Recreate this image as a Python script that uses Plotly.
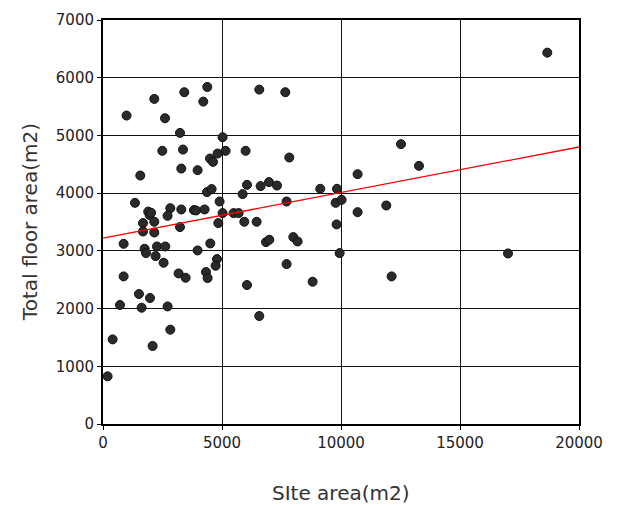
import plotly.graph_objects as go

site_area = [990, 2155, 3416, 4382, 4214, 2605, 3235, 5025, 2492, 3361, 5151, 4815, 5992, 4496, 4622,
             7828, 6567, 7660, 1567, 3290, 3975, 4370, 4563, 6050, 6622, 6975, 7311, 5866, 9130, 9832,
             1343, 1900, 1960, 2020, 2828, 3290, 3820, 3910, 4269, 4899, 7714, 9773, 10025, 2714, 5025,
             5489, 5698, 1681, 2155, 1681, 2155, 3235, 4845, 5937, 6454, 867, 1748, 1807, 2269, 2618,
             2211, 2546, 3975, 4508, 4790, 4731, 3176, 3471, 4328, 4395, 867, 6849, 6987, 7996, 8176,
             9815, 9943, 7714, 8807, 6050, 6567, 1511, 1975, 714, 1623, 2714, 2828, 404, 2084, 193,
             18668, 12521, 13277, 10697, 11903, 10697, 17017, 12126]
floor_area = [5344, 5633, 5749, 5840, 5586, 5298, 5044, 4969, 4733, 4755, 4733, 4686, 4733, 4599, 4542,
              4617, 5794, 5749, 4305, 4426, 4398, 4018, 4070, 4144, 4122, 4191, 4132, 3983, 4075, 4075,
              3832, 3680, 3620, 3660, 3740, 3717, 3706, 3700, 3717, 3855, 3855, 3832, 3884, 3607, 3654,
              3654, 3654, 3481, 3504, 3336, 3318, 3412, 3481, 3504, 3504, 3122, 3036, 2961, 3076, 3076,
              2910, 2794, 3007, 3128, 2857, 2742, 2609, 2534, 2633, 2529, 2557, 3151, 3192, 3238, 3163,
              3458, 2961, 2771, 2465, 2408, 1871, 2252, 2183, 2062, 2015, 2037, 1634, 1466, 1352, 826,
              6434, 4849, 4473, 4329, 3786, 3671, 2955, 2557]

fit_intercept = 3222
fit_slope = 0.0789
fit_x = [0, 20000]

x_ticks = [0, 5000, 10000, 15000, 20000]
y_ticks = [0, 1000, 2000, 3000, 4000, 5000, 6000, 7000]

fig = go.Figure()
fig.add_trace(go.Scatter(
    x=site_area, y=floor_area, mode="markers",
    marker=dict(symbol="circle", size=9, color="#2a2a2a", line=dict(color="#111111", width=1)),
    showlegend=False, hoverinfo="skip"))
fig.add_trace(go.Scatter(
    x=fit_x, y=[fit_intercept + fit_slope * v for v in fit_x], mode="lines",
    line=dict(color="#ff0000", width=1.3), showlegend=False, hoverinfo="skip"))

font_family = "DejaVu Sans"
fig.update_layout(
    width=610, height=497,
    margin=dict(l=95, r=39, t=12, b=81, autoexpand=False),
    plot_bgcolor="white", paper_bgcolor="white",
    font=dict(family=font_family, color="#222222"),
    annotations=[
        dict(text="SIte area(m2)", xref="paper", yref="paper", x=0.5, y=-0.172,
             xanchor="center", yanchor="middle", showarrow=False,
             font=dict(size=20, family=font_family, color="#333333")),
        dict(text="Total floor area(m2)", xref="paper", yref="paper", x=-0.153, y=0.5,
             xanchor="center", yanchor="middle", textangle=-90, showarrow=False,
             font=dict(size=20, family=font_family, color="#333333")),
    ],
)
fig.update_xaxes(
    range=[0, 20000], tickvals=x_ticks, ticktext=[str(v) for v in x_ticks],
    showgrid=True, gridcolor="#111111", gridwidth=1.3,
    showline=True, linecolor="#000000", linewidth=2, mirror=True,
    ticks="outside", ticklen=4, tickcolor="#000000", tickwidth=1.3,
    tickfont=dict(size=15, family=font_family, color="#222222"),
    zeroline=False, automargin=False,
)
fig.update_yaxes(
    range=[0, 7000], tickvals=y_ticks, ticktext=[str(v) for v in y_ticks],
    showgrid=True, gridcolor="#111111", gridwidth=1.3,
    showline=True, linecolor="#000000", linewidth=2, mirror=True,
    ticks="outside", ticklen=4, tickcolor="#000000", tickwidth=1.3,
    tickfont=dict(size=15, family=font_family, color="#222222"),
    zeroline=False, automargin=False,
)
fig.write_html("out.html")
